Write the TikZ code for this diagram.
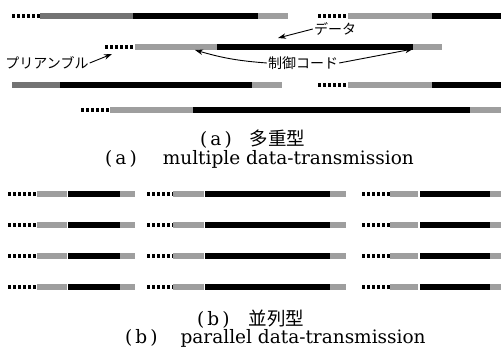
\documentclass[tikz,border=0pt]{standalone}
\usepackage{fontspec}
\setmainfont{DejaVu Serif}
\newfontfamily\jp{Noto Sans CJK JP}
\usetikzlibrary{arrows.meta}
\newcommand\dotsrow[2]{\foreach \i in {0,...,5} {\fill (#1+\i*5,#2-1.6) rectangle ++(3,3.2);}}
\newcommand\sbar[4]{\fill[#4] (#1,#2-3.2) rectangle (#3,#2+3.2);}
\tikzset{
  lbl/.style={font=\jp\fontsize{14}{16}\selectfont, inner sep=1pt},
  captext/.style={font=\fontsize{18.5}{20}\selectfont, inner sep=0pt, anchor=base west},
  arr/.style={-{Stealth[length=8pt,width=5.5pt]}, line width=0.9pt},
  ctl/.style={black!38},
  ctld/.style={black!55},
}
\begin{document}
\begin{tikzpicture}[x=1pt,y=-1pt]
\useasboundingbox (0,0) rectangle (501,350);
% (a) rows
\dotsrow{12}{16}
\sbar{40}{16}{133}{ctld}
\sbar{133}{16}{258}{black}
\sbar{258}{16}{288}{ctl}
\dotsrow{318}{16}
\sbar{348}{16}{432}{ctl}
\sbar{432}{16}{501}{black}
\dotsrow{105}{47}
\sbar{135}{47}{217}{ctl}
\sbar{217}{47}{413}{black}
\sbar{413}{47}{442}{ctl}
\sbar{12}{85}{60}{ctld}
\sbar{60}{85}{252}{black}
\sbar{252}{85}{282}{ctl}
\dotsrow{318}{85}
\sbar{348}{85}{432}{ctl}
\sbar{432}{85}{501}{black}
\dotsrow{81}{110}
\sbar{110}{110}{193}{ctl}
\sbar{193}{110}{470}{black}
\sbar{470}{110}{501}{ctl}
% labels
\node[lbl] (data) at (335,29) {データ};
\node[lbl] (pre) at (47,63) {プリアンブル};
\node[lbl] (ctrl) at (303,63) {制御コード};
\coordinate (tipData) at (278,38);
\coordinate (tipPre) at (112,54);
\coordinate (tipCtrlL) at (195,50);
\coordinate (tipCtrlR) at (413,49);
\draw[arr] (data.west) -- (tipData);
\draw[arr] (pre.east) -- (tipPre);
\draw[arr] (ctrl.west) to[bend left=6] (tipCtrlL);
\draw[arr] (ctrl.east) -- (tipCtrlR);
% (b) rows
\foreach \y in {194,225,256,287} {
  \dotsrow{8}{\y}
  \sbar{37}{\y}{67}{ctl}
  \sbar{68}{\y}{120}{black}
  \sbar{120}{\y}{135}{ctl}
  \dotsrow{147}{\y}
  \sbar{173}{\y}{204}{ctl}
  \sbar{205}{\y}{330}{black}
  \sbar{330}{\y}{346}{ctl}
  \dotsrow{362}{\y}
  \sbar{390}{\y}{418}{ctl}
  \sbar{420}{\y}{490}{black}
  \sbar{490}{\y}{501}{ctl}
}
% captions
\node[captext] (capa1) at (200,146) {(\,a\,)\hspace{18pt}{\jp 多重型}};
\node[captext] (capa2) at (105,165) {(\,a\,)\hspace{26pt}multiple data-transmission};
\node[captext] (capb1) at (197,325) {(\,b\,)\hspace{19pt}{\jp 並列型}};
\node[captext] (capb2) at (125,343) {(\,b\,)\hspace{23pt}parallel data-transmission};
\end{tikzpicture}
\end{document}
